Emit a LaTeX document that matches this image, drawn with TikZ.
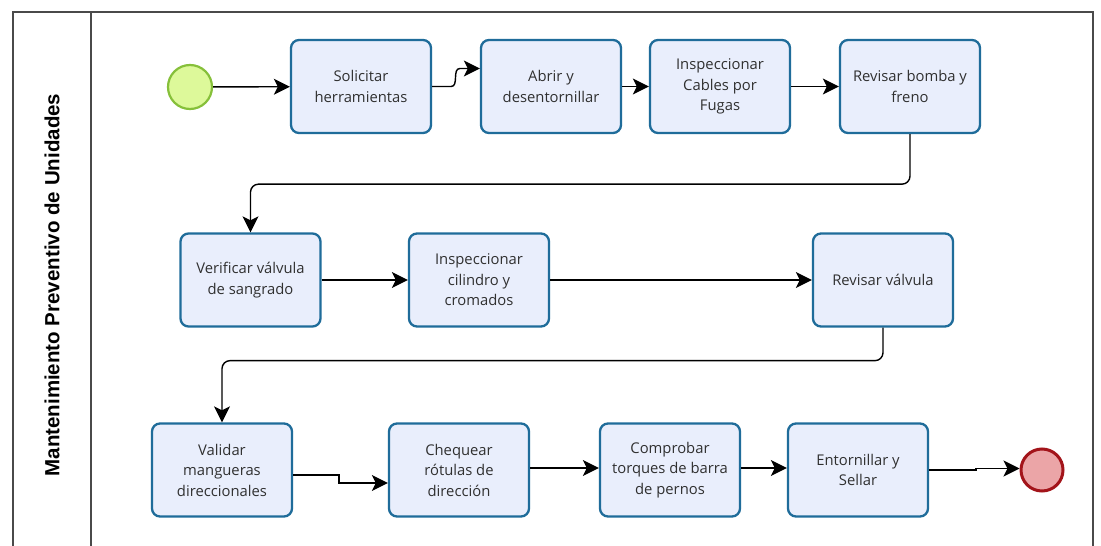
\documentclass[tikz,border=0pt]{standalone}
\usepackage{fontspec}
\setmainfont{Open Sans}
\newfontfamily\lanefont{Liberation Sans}
\usetikzlibrary{arrows.meta,calc}
\definecolor{taskfill}{HTML}{E9EEFC}
\definecolor{taskline}{HTML}{1F6C9A}
\definecolor{startfill}{HTML}{DDF99A}
\definecolor{startline}{HTML}{86C03A}
\definecolor{endfill}{HTML}{EBA5A7}
\definecolor{endline}{HTML}{A3141A}
\definecolor{frameline}{HTML}{4A4A4A}
\definecolor{tasktext}{HTML}{303030}
\tikzset{
  task/.style={draw=taskline, line width=2.3pt, fill=taskfill, rounded corners=8pt,
    minimum width=140pt, minimum height=93pt, align=center, text=tasktext,
    font=\fontsize{14.8}{20.5}\selectfont, inner sep=2pt},
  startev/.style={circle, draw=startline, line width=2.2pt, fill=startfill, minimum size=44pt, inner sep=0pt},
  endev/.style={circle, draw=endline, line width=3pt, fill=endfill, minimum size=42pt, inner sep=0pt},
  flow/.style={draw=black, line width=1.4pt, -{Stealth[length=16pt,width=16pt,inset=4pt]}},
  frame/.style={draw=frameline, line width=1.4pt}
}
\begin{document}
\begin{tikzpicture}[x=1pt,y=-1pt]
\useasboundingbox (0,0) rectangle (1101,546);
\fill[white] (0,0) rectangle (1101,546);
% pool frame and lane header
\draw[frame] (13,546) -- (13,12) -- (1093,12) -- (1093,546);
\draw[frame] (91,12) -- (91,546);
\node[rotate=90, font=\lanefont\bfseries\fontsize{20.5}{24}\selectfont] (lane) at (52,285) {Mantenimiento Preventivo de Unidades};

% events
\node[startev] (start) at (190,87) {};
\node[endev] (finish) at (1042,470) {};

% first row
\node[task] (solicitar) at (361,86.5) {Solicitar\\herramientas};
\node[task] (abrir) at (551,86.5) {Abrir y\\desentornillar};
\node[task] (cables) at (720,86.5) {Inspeccionar\\Cables por\\Fugas};
\node[task] (bomba) at (910,86.5) {Revisar bomba y\\freno};

% second row
\node[task] (verificar) at (250.5,280) {Verificar válvula\\de sangrado};
\node[task] (cilindro) at (479,280) {Inspeccionar\\cilindro y\\cromados};
\node[task] (valvula) at (883,280) {Revisar válvula};

% third row
\node[task] (validar) at (222,470) {Validar\\mangueras\\direccionales};
\node[task] (chequear) at (459,470) {Chequear\\rótulas de\\dirección};
\node[task] (comprobar) at (670,470) {Comprobar\\torques de barra\\de pernos};
\node[task] (sellar) at (858,470) {Entornillar y\\Sellar};

% sequence flows
\draw[flow] (start) -- (solicitar);
\draw[flow] (solicitar.east) -- ++(19,0) to[out=0,in=180] ($(abrir.west)+(-20,-18)$) -- ($(abrir.west)+(0,-18)$);
\draw[flow] (abrir) -- (cables);
\draw[flow] (cables) -- (bomba);
\draw[flow, rounded corners=8pt] (bomba.south) -- ++(0,50) -| (verificar.north);
\draw[flow] (verificar) -- (cilindro);
\draw[flow] (cilindro) -- (valvula);
\draw[flow, rounded corners=8pt] (valvula.south) -- ++(0,33) -| (validar.north);
\draw[flow] ($(validar.east)+(0,5)$) -- (339,475) -- (339,483) -- ($(chequear.west)+(0,13)$);
\draw[flow] ($(chequear.east)+(0,-2)$) -- ($(comprobar.west)+(0,-2)$);
\draw[flow] ($(comprobar.east)+(0,-2)$) -- ($(sellar.west)+(0,-2)$);
\draw[flow] (sellar.east) -- ++(47,0) -- ++(0,-1.5) -- (finish.west |- 0,468.5);
\end{tikzpicture}
\end{document}
